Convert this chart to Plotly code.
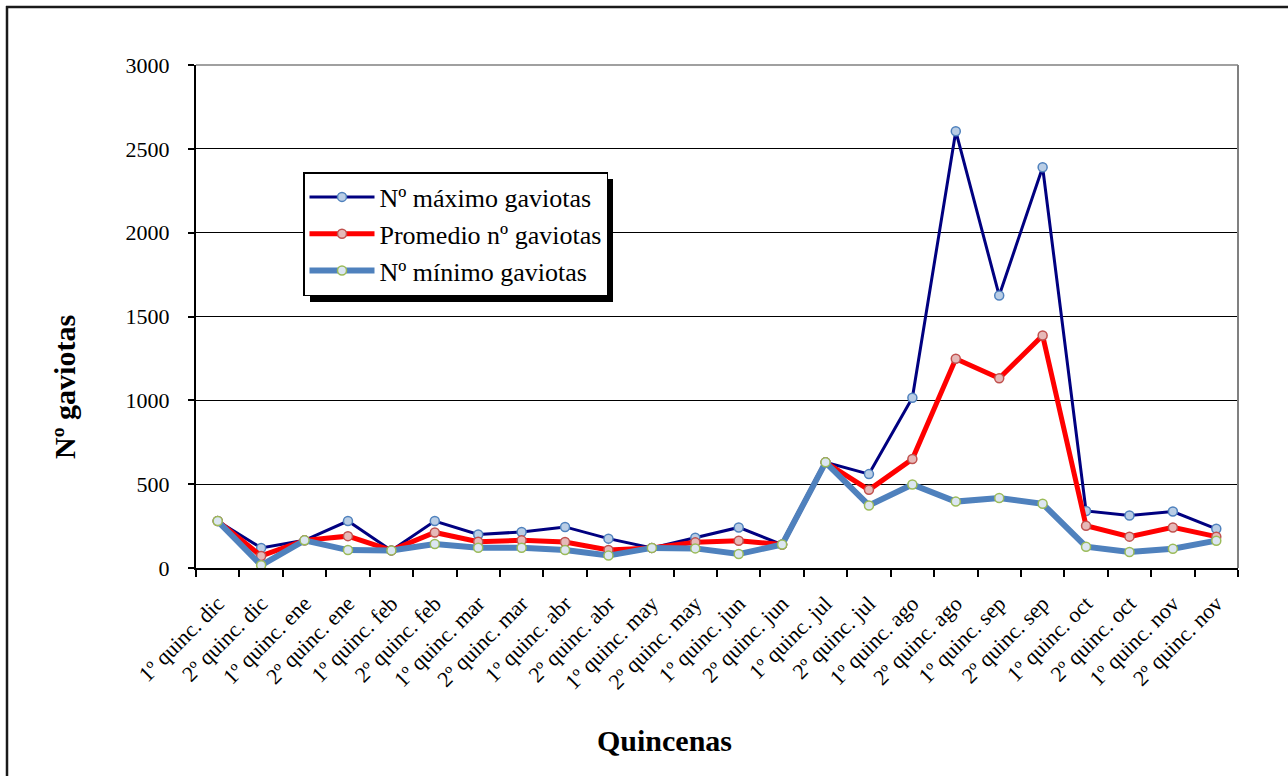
import plotly.graph_objects as go

categories = ["1º quinc. dic", "2º quinc. dic", "1º quinc. ene", "2º quinc. ene",
              "1º quinc. feb", "2º quinc. feb", "1º quinc. mar", "2º quinc. mar",
              "1º quinc. abr", "2º quinc. abr", "1º quinc. may", "2º quinc. may",
              "1º quinc. jun", "2º quinc. jun", "1º quinc. jul", "2º quinc. jul",
              "1º quinc. ago", "2º quinc. ago", "1º quinc. sep", "2º quinc. sep",
              "1º quinc. oct", "2º quinc. oct", "1º quinc. nov", "2º quinc. nov"]

max_vals = [280, 120, 165, 280, 105, 280, 200, 215, 245, 175, 120, 180,
            242, 140, 630, 560, 1015, 2605, 1625, 2390, 340, 313, 337, 234]
avg_vals = [280, 72, 165, 190, 105, 212, 157, 165, 155, 108, 120, 153,
            163, 140, 630, 466, 650, 1248, 1132, 1387, 252, 187, 242, 187]
min_vals = [280, 16, 165, 107, 105, 143, 121, 121, 107, 74, 120, 117,
            83, 140, 630, 373, 498, 396, 418, 383, 127, 95, 115, 163]

y_ticks = [0, 500, 1000, 1500, 2000, 2500, 3000]

SERIF = "Liberation Serif, Times New Roman, serif"

fig = go.Figure()
fig.add_trace(go.Scatter(
    x=categories, y=max_vals, name="Nº máximo gaviotas", mode="lines+markers",
    line=dict(color="#000080", width=3),
    marker=dict(symbol="circle", size=9, color="#B9CDE5", line=dict(color="#4F81BD", width=1.5))))
fig.add_trace(go.Scatter(
    x=categories, y=avg_vals, name="Promedio nº gaviotas", mode="lines+markers",
    line=dict(color="#FF0000", width=5),
    marker=dict(symbol="circle", size=9, color="#E6B9B8", line=dict(color="#C0504D", width=1.5))))
fig.add_trace(go.Scatter(
    x=categories, y=min_vals, name="Nº mínimo gaviotas", mode="lines+markers",
    line=dict(color="#4F81BD", width=6),
    marker=dict(symbol="circle", size=9, color="#DCE6F2", line=dict(color="#9BBB59", width=1.5))))

W, H = 1288, 776
L, R, T, B = 196, 1238, 65, 568
pw, ph = R - L, B - T

def px2x(p):
    return (p - L) / pw

def px2y(p):
    return (B - p) / ph

shapes = [
    # outer chart border (left and top)
    dict(type="line", xref="paper", yref="paper", x0=px2x(7), x1=px2x(7),
         y0=px2y(800), y1=px2y(6), line=dict(color="#1a1a1a", width=2.5)),
    dict(type="line", xref="paper", yref="paper", x0=px2x(6), x1=px2x(1300),
         y0=px2y(7), y1=px2y(7), line=dict(color="#1a1a1a", width=2.5)),
    # top and right border of plot area (gray)
    dict(type="line", xref="paper", yref="paper", x0=1, x1=1, y0=0, y1=1,
         line=dict(color="#808080", width=2)),
    dict(type="line", xref="paper", yref="paper", x0=0, x1=1, y0=1, y1=1,
         line=dict(color="#808080", width=1.5)),
    # legend shadow
    dict(type="rect", xref="paper", yref="paper", x0=px2x(310), x1=px2x(613),
         y0=px2y(302), y1=px2y(179), fillcolor="#000000",
         line=dict(color="#000000", width=0), layer="above"),
]

annotations = [
    dict(text="<b>Quincenas</b>", xref="paper", yref="paper", x=px2x(664), y=px2y(740),
         xanchor="center", yanchor="middle",
         showarrow=False, font=dict(family=SERIF, size=30, color="#000000")),
    dict(text="<b>Nº gaviotas</b>", xref="paper", yref="paper", x=px2x(64), y=px2y(387),
         xanchor="center", yanchor="middle",
         showarrow=False, textangle=-90, font=dict(family=SERIF, size=30, color="#000000")),
]

fig.update_layout(
    width=W, height=H,
    margin=dict(l=L, r=W - R, t=T, b=H - B, autoexpand=False),
    paper_bgcolor="#FFFFFF", plot_bgcolor="#FFFFFF",
    font=dict(family=SERIF, color="#000000"),
    showlegend=True,
    legend=dict(x=px2x(303), y=px2y(172), xanchor="left", yanchor="top",
                bgcolor="#FFFFFF", bordercolor="#000000", borderwidth=1.5,
                font=dict(family=SERIF, size=26, color="#000000"),
                tracegroupgap=0, itemwidth=65),
    shapes=shapes,
    annotations=annotations,
    xaxis=dict(type="category", range=[-0.5, len(categories) - 0.5],
               tickson="boundaries", ticks="outside", ticklen=7, tickwidth=1.5, tickcolor="#000000",
               showline=True, linecolor="#000000", linewidth=2, showgrid=False,
               ticklabelstandoff=12,
               tickangle=-45, tickfont=dict(family=SERIF, size=22, color="#000000")),
    yaxis=dict(range=[0, 3000], tickvals=y_ticks, ticks="outside", ticklen=6, tickwidth=1.5,
               tickcolor="#000000", showline=True, linecolor="#000000", linewidth=2,
               showgrid=True, gridcolor="#000000", gridwidth=1.2, zeroline=False,
               ticklabelstandoff=14,
               tickfont=dict(family=SERIF, size=22, color="#000000")),
)

fig.write_html("out.html", config={"displayModeBar": False},
               post_script="document.body.style.margin='0';")
